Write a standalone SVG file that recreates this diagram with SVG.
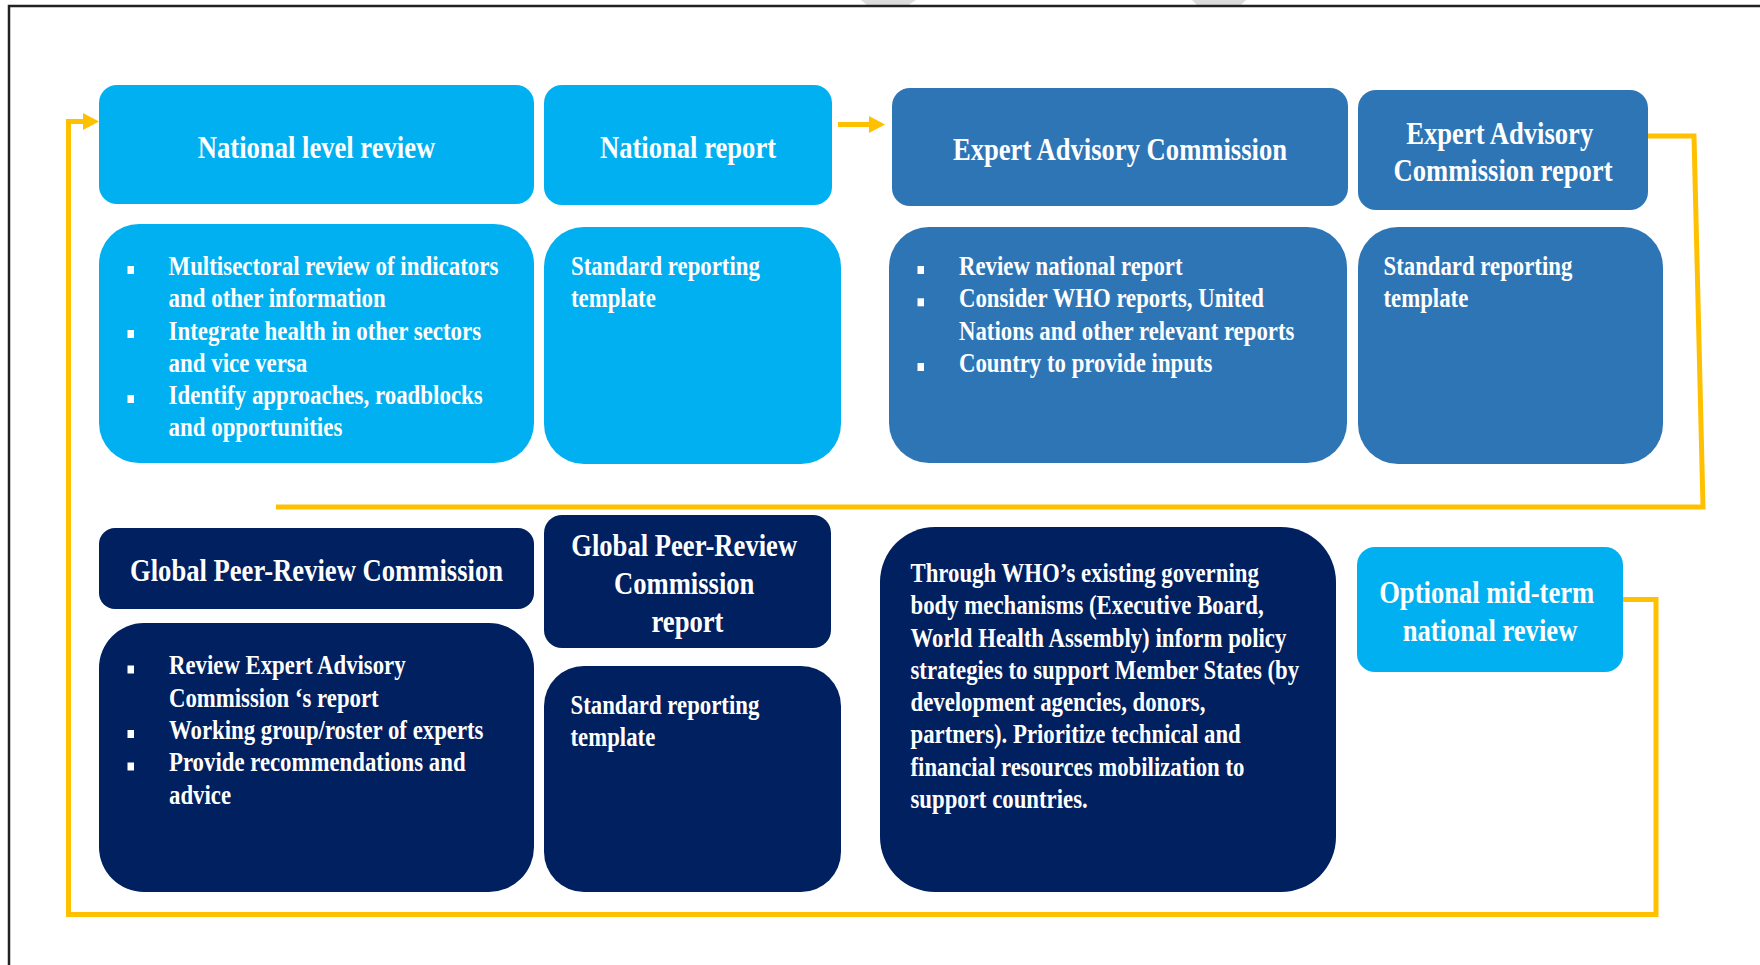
<svg xmlns="http://www.w3.org/2000/svg" width="1760" height="965" viewBox="0 0 1760 965">
<style>
.lb{fill:#00B0F0}
.mb{fill:#2E75B6}
.nv{fill:#002060}
.h{font-family:"Liberation Serif","Times New Roman",serif;font-weight:bold;font-size:31.5px;fill:#fff;text-anchor:middle}
.b{font-family:"Liberation Serif","Times New Roman",serif;font-weight:bold;font-size:26.5px;fill:#fff}
.bul{fill:#fff}
.conn{stroke:#FFC000;stroke-width:5;fill:none;stroke-linejoin:miter}
</style>
<defs>
<marker id="ah" markerUnits="userSpaceOnUse" markerWidth="16" markerHeight="17" viewBox="0 0 16 17" refX="0" refY="8.5" orient="auto">
<path d="M0,0 L16,8.5 L0,17 Z" fill="#FFC000"/>
</marker>
</defs>
<rect width="1760" height="965" fill="#fff"/>
<g id="frame">
<polygon points="861,0 916,0 907,6 868,6" fill="#dcdcdc"/>
<polygon points="1192,0 1246,0 1240,6 1198,6" fill="#dcdcdc"/>
<path d="M9,965 V6 H1760" stroke="#222" stroke-width="2.5" fill="none"/>
</g>
<g id="connectors">
<path class="conn" d="M1623,599.5 H1656 V914.5 H68.5 V121.5 H83" marker-end="url(#ah)"/>
<path class="conn" d="M838,124.5 H869" marker-end="url(#ah)"/>
<path class="conn" d="M1648,136 H1694 L1703,507 H276"/>
</g>
<g id="national-level-review">
<rect class="lb" x="99" y="85" width="435" height="119" rx="18"/>
<text class="h" transform="translate(316.5 0) scale(0.845 1)" x="0" y="158">National level review</text>
</g>
<g id="national-level-review-details">
<rect class="lb" x="99" y="224" width="435" height="239" rx="40"/>
<rect class="bul" x="127.5" y="266" width="6.5" height="8"/>
<rect class="bul" x="127.5" y="330" width="6.5" height="8"/>
<rect class="bul" x="127.5" y="395" width="6.5" height="8"/>
<text class="b" transform="translate(168.5 0) scale(0.865 1)">
<tspan x="0" y="275">Multisectoral review of indicators</tspan>
<tspan x="0" y="307.3">and other information</tspan>
<tspan x="0" y="339.6">Integrate health in other sectors</tspan>
<tspan x="0" y="371.9">and vice versa</tspan>
<tspan x="0" y="404.2">Identify approaches, roadblocks</tspan>
<tspan x="0" y="436.5">and opportunities</tspan>
</text>
</g>
<g id="national-report">
<rect class="lb" x="544" y="85" width="288" height="120" rx="18"/>
<text class="h" transform="translate(688 0) scale(0.845 1)" x="0" y="158">National report</text>
</g>
<g id="national-report-details">
<rect class="lb" x="544" y="227" width="297" height="237" rx="40"/>
<text class="b" transform="translate(571 0) scale(0.86 1)">
<tspan x="0" y="275">Standard reporting</tspan>
<tspan x="0" y="307.3">template</tspan>
</text>
</g>
<g id="expert-advisory-commission">
<rect class="mb" x="892" y="88" width="456" height="118" rx="18"/>
<text class="h" transform="translate(1120 0) scale(0.845 1)" x="0" y="160">Expert Advisory Commission</text>
</g>
<g id="expert-advisory-commission-details">
<rect class="mb" x="889" y="227" width="458" height="236" rx="40"/>
<rect class="bul" x="917.5" y="266" width="6.5" height="8"/>
<rect class="bul" x="917.5" y="298.3" width="6.5" height="8"/>
<rect class="bul" x="917.5" y="363" width="6.5" height="8"/>
<text class="b" transform="translate(959 0) scale(0.86 1)">
<tspan x="0" y="275">Review national report</tspan>
<tspan x="0" y="307.3">Consider WHO reports, United</tspan>
<tspan x="0" y="339.6">Nations and other relevant reports</tspan>
<tspan x="0" y="371.9">Country to provide inputs</tspan>
</text>
</g>
<g id="expert-advisory-commission-report">
<rect class="mb" x="1358" y="90" width="290" height="120" rx="18"/>
<text class="h" transform="translate(1503 0) scale(0.845 1)">
<tspan x="0" y="144">Expert Advisory</tspan>
<tspan x="0" y="181.5">Commission report</tspan>
</text>
</g>
<g id="expert-advisory-commission-report-details">
<rect class="mb" x="1358" y="227" width="305" height="237" rx="40"/>
<text class="b" transform="translate(1383.5 0) scale(0.86 1)">
<tspan x="0" y="275">Standard reporting</tspan>
<tspan x="0" y="307.3">template</tspan>
</text>
</g>
<g id="global-peer-review-commission">
<rect class="nv" x="99" y="528" width="435" height="81" rx="16"/>
<text class="h" transform="translate(316.5 0) scale(0.845 1)" x="0" y="581">Global Peer-Review Commission</text>
</g>
<g id="global-peer-review-commission-details">
<rect class="nv" x="99" y="623" width="435" height="269" rx="45"/>
<rect class="bul" x="127.5" y="665.5" width="6.5" height="8"/>
<rect class="bul" x="127.5" y="730" width="6.5" height="8"/>
<rect class="bul" x="127.5" y="762.5" width="6.5" height="8"/>
<text class="b" transform="translate(169 0) scale(0.86 1)">
<tspan x="0" y="674.5">Review Expert Advisory</tspan>
<tspan x="0" y="706.8">Commission ‘s report</tspan>
<tspan x="0" y="739.1">Working group/roster of experts</tspan>
<tspan x="0" y="771.4">Provide recommendations and</tspan>
<tspan x="0" y="803.7">advice</tspan>
</text>
</g>
<g id="global-peer-review-commission-report">
<rect class="nv" x="544" y="515" width="287" height="133" rx="18"/>
<text class="h" transform="translate(687.5 0) scale(0.845 1)">
<tspan x="0" y="556">Global Peer-Review</tspan>
<tspan x="0" y="594">Commission</tspan>
<tspan x="0" y="632">report</tspan>
</text>
</g>
<g id="global-peer-review-commission-report-details">
<rect class="nv" x="544" y="666" width="297" height="226" rx="40"/>
<text class="b" transform="translate(570.5 0) scale(0.86 1)">
<tspan x="0" y="714">Standard reporting</tspan>
<tspan x="0" y="746.3">template</tspan>
</text>
</g>
<g id="who-governing-bodies">
<rect class="nv" x="880" y="527" width="456" height="365" rx="55"/>
<text class="b" transform="translate(910.5 0) scale(0.86 1)">
<tspan x="0" y="582">Through WHO’s existing governing</tspan>
<tspan x="0" y="614.3">body mechanisms (Executive Board,</tspan>
<tspan x="0" y="646.6">World Health Assembly) inform policy</tspan>
<tspan x="0" y="678.9">strategies to support Member States (by</tspan>
<tspan x="0" y="711.2">development agencies, donors,</tspan>
<tspan x="0" y="743.5">partners). Prioritize technical and</tspan>
<tspan x="0" y="775.8">financial resources mobilization to</tspan>
<tspan x="0" y="808.1">support countries.</tspan>
</text>
</g>
<g id="optional-mid-term-review">
<rect class="lb" x="1357" y="547" width="266" height="125" rx="18"/>
<text class="h" transform="translate(1490 0) scale(0.845 1)">
<tspan x="0" y="603">Optional mid-term</tspan>
<tspan x="0" y="641">national review</tspan>
</text>
</g>
</svg>
